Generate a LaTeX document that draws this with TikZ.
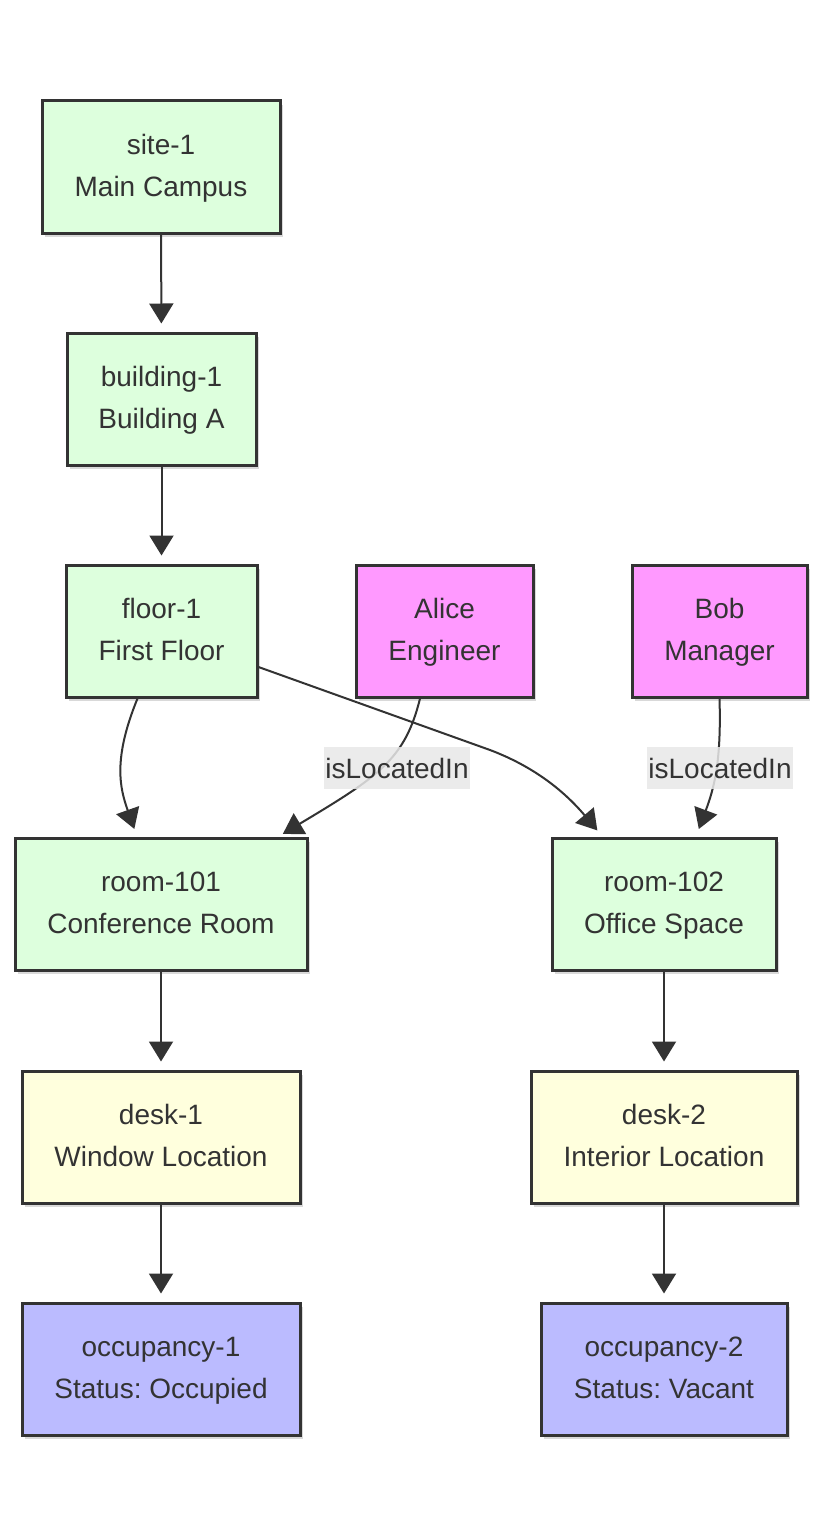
\documentclass[tikz,border=0pt]{standalone}
\usepackage{fontspec}
\setmainfont{Liberation Sans}
\usetikzlibrary{arrows.meta,shadows}
\definecolor{ink}{HTML}{333333}
\definecolor{gfill}{HTML}{DDFFDD}
\definecolor{mfill}{HTML}{FF99FF}
\definecolor{yfill}{HTML}{FFFFDD}
\definecolor{bfill}{HTML}{BBBBFF}
\definecolor{lblbg}{HTML}{E8E8E8}
\begin{document}
\begin{tikzpicture}[x=1pt,y=-1pt,
  box/.style={rectangle, draw=ink, line width=3pt, text=ink, align=center,
    font=\fontsize{28}{42}\selectfont\frenchspacing, inner sep=0pt, minimum height=132pt,
    drop shadow={shadow xshift=3pt, shadow yshift=-4pt, opacity=0.15, fill=black}},
  place/.style={box, fill=gfill},
  person/.style={box, fill=mfill},
  desk/.style={box, fill=yfill},
  occ/.style={box, fill=bfill},
  edge/.style={draw=ink, line width=2pt, -{Triangle[length=20pt,width=24pt]}, shorten >=8pt},
  lbl/.style={fill=lblbg, fill opacity=0.85, text opacity=1, text=ink,
    font=\fontsize{28}{34}\selectfont, inner xsep=1pt, inner ysep=0pt,
    minimum height=42pt}
]
\fill[white] (0,0) rectangle (823,1536);
\useasboundingbox (0,0) rectangle (823,1536);

\node[place, minimum width=238pt] (site) at (161,167) {\strut site-1\\\strut Main Campus};
\node[place, minimum width=189pt] (bld) at (161.5,399) {\strut building-1\\\strut Building A};
\node[place, minimum width=191pt] (floor) at (161.5,631) {\strut floor-1\\\strut First Floor};
\node[person, minimum width=177pt] (alice) at (444.5,631) {\strut Alice\\\strut Engineer};
\node[person, minimum width=175pt] (bob) at (719.5,631) {\strut Bob\\\strut Manager};
\node[place, minimum width=292pt] (r101) at (161,904) {\strut room-101\\\strut Conference Room};
\node[place, minimum width=224pt] (r102) at (664,904) {\strut room-102\\\strut Office Space};
\node[desk, minimum width=278pt] (desk1) at (161,1137) {\strut desk-1\\\strut Window Location};
\node[desk, minimum width=266pt] (desk2) at (664,1137) {\strut desk-2\\\strut Interior Location};
\node[occ, minimum width=278pt] (occ1) at (161,1369) {\strut occupancy-1\\\strut Status: Occupied};
\node[occ, minimum width=246pt] (occ2) at (664,1369) {\strut occupancy-2\\\strut Status: Vacant};

\draw[edge] (site) -- (bld);
\draw[edge] (bld) -- (floor);
\draw[edge] (r101) -- (desk1);
\draw[edge] (desk1) -- (occ1);
\draw[edge] (r102) -- (desk2);
\draw[edge] (desk2) -- (occ2);

\draw[edge] ([xshift=-24pt]floor.south) .. controls +(-25,61) and +(-17,-48) .. ([xshift=-24pt]r101.north);
\draw[edge] ([yshift=-36pt]floor.east) -- (490,750) .. controls (535,767) and (565,792) .. ([xshift=52pt]r102.north west);
\draw[edge, shorten >=5pt] ([xshift=-24.5pt]alice.south) .. controls +(-15,61) and +(100,-60) .. ([xshift=-30pt]r101.north east);
\draw[edge] (bob.south) .. controls +(2,63) and +(18,-48) .. ([xshift=32pt]r102.north);

\node[lbl] (l1) at (397,768) {isLocatedIn};
\node[lbl] (l2) at (720,768) {isLocatedIn};
\end{tikzpicture}
\end{document}
